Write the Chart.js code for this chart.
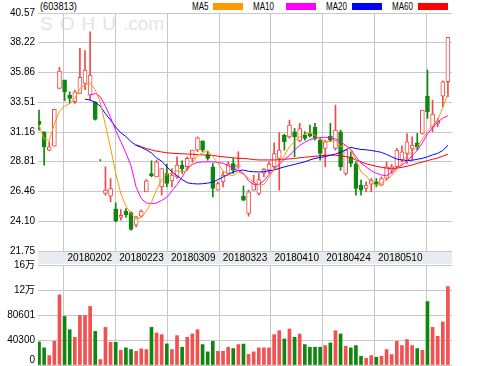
<!DOCTYPE html>
<html>
<head>
<meta charset="utf-8">
<script src="https://cdn.jsdelivr.net/npm/chart.js@4.4.1/dist/chart.umd.min.js"></script>
<style>
  html, body { margin: 0; padding: 0; background: #fff; width: 499px; height: 366px; overflow: hidden; }
  body { font-family: "Liberation Sans", "Noto Sans CJK SC", sans-serif; }
  #wrap { position: relative; width: 499px; height: 366px; }
  canvas { position: absolute; left: 0; }
  #price { top: 0; }
  #vol { top: 252px; }
  .wm { position: absolute; left: 40px; top: 13px; font-size: 19px; color: #e4e4e4; }
  .txt { position: absolute; top: 1px; font-size: 10px; color: #000; transform: scaleX(0.8); transform-origin: left top; }
  .code { transform: scaleX(0.92); }
  .sw { position: absolute; top: 3px; width: 30px; height: 7px; }
</style>
</head>
<body>
<div id="wrap">
  <div class="wm"><span style="letter-spacing:7px">SOHU</span>.com</div>
  <div class="txt code" style="left:40px">(603813)</div>
  <div class="txt" style="left:192px">MA5</div><div class="sw" style="left:213px;background:#ff9900"></div>
  <div class="txt" style="left:253px">MA10</div><div class="sw" style="left:286px;background:#ff00ff"></div>
  <div class="txt" style="left:326px">MA20</div><div class="sw" style="left:352px;background:#0000ff"></div>
  <div class="txt" style="left:392px">MA60</div><div class="sw" style="left:418px;background:#ff0000"></div>
  <canvas id="price" width="499" height="264"></canvas>
  <canvas id="vol" width="499" height="114"></canvas>
</div>
<script>
// tick labels
const dateTicks = ['', '20180202', '20180223', '20180309', '20180323', '20180410', '20180424', '20180510', ''];
const priceTicks = [21.75, 24.10, 26.46, 28.81, 31.16, 33.51, 35.86, 38.22, 40.57];
const volTicks = [0, 40300, 80601, 120901, 161202];
const volTickLabels = ['0', '40300', '80601', '12万', '16万'];

// daily candles, one per trading day
const open = [32.02, 31.18, 29.73, 30.04, 34.61, 35.27, 34.08, 33.55, 34.21, 35.00,
  34.08, 33.55, 28.93, 26.30, 26.08, 25.06, 24.40, 24.90, 24.79, 23.79,
  24.50, 26.43, 27.88, 27.61, 26.82, 27.88, 27.30, 27.61, 28.54, 28.41,
  29.07, 29.73, 30.46, 29.38, 28.41, 26.56, 27.22, 27.88, 28.67, 28.40,
  26.08, 24.72, 26.56, 26.30, 27.90, 28.14, 28.41, 29.07, 30.90, 30.78,
  31.18, 30.46, 30.91, 31.04, 31.52, 30.52, 29.86, 30.83, 29.86, 31.18,
  27.88, 29.20, 28.60, 26.96, 26.69, 27.03, 27.22, 26.96, 27.48, 28.14,
  28.41, 28.93, 29.46, 29.86, 30.30, 31.04, 34.00, 31.57, 31.84, 34.00, 35.13];
const high = [32.89, 31.18, 30.39, 32.95, 36.27, 35.27, 34.34, 34.47, 37.77, 37.59,
  39.09, 33.55, 28.98, 28.41, 27.48, 25.56, 25.03, 25.11, 24.84, 24.50,
  25.00, 27.40, 28.88, 28.93, 28.27, 28.62, 28.27, 29.20, 28.88, 29.20,
  29.73, 30.78, 30.46, 29.60, 28.67, 27.22, 28.01, 28.80, 29.07, 29.60,
  26.90, 26.56, 27.75, 27.88, 28.27, 28.80, 30.30, 31.10, 30.99, 32.10,
  31.44, 31.84, 31.18, 31.70, 31.84, 30.65, 30.52, 31.84, 33.29, 31.31,
  29.73, 29.59, 28.80, 27.35, 27.22, 27.48, 27.48, 27.61, 28.80, 28.60,
  29.86, 30.07, 31.04, 30.78, 31.04, 32.89, 36.06, 33.68, 32.23, 35.21, 38.64];
const low = [31.30, 28.54, 29.67, 30.04, 34.61, 33.63, 33.42, 33.42, 34.21, 34.50,
  33.68, 32.10, 28.88, 26.16, 25.64, 24.05, 24.19, 24.40, 23.39, 23.66,
  24.44, 26.43, 27.61, 27.61, 26.16, 26.82, 26.82, 27.48, 27.88, 28.14,
  28.80, 29.60, 29.60, 28.93, 26.03, 26.56, 26.82, 27.75, 27.88, 28.27,
  25.72, 24.50, 26.56, 26.16, 27.60, 27.88, 28.27, 26.56, 29.73, 30.65,
  29.20, 30.39, 30.52, 30.78, 30.52, 28.93, 28.41, 30.39, 29.73, 28.14,
  27.75, 28.41, 26.16, 26.16, 26.43, 26.43, 26.82, 26.90, 27.35, 27.90,
  28.27, 28.80, 28.67, 28.93, 29.73, 30.99, 32.23, 31.18, 31.57, 33.16, 33.95];
const close = [31.76, 29.99, 29.99, 32.95, 35.98, 34.34, 33.82, 34.34, 35.48, 36.06,
  35.66, 32.15, 28.93, 26.56, 26.69, 24.13, 24.58, 24.60, 23.45, 24.45,
  24.90, 27.30, 27.70, 28.80, 28.27, 27.09, 27.75, 28.54, 28.27, 29.07,
  29.73, 30.70, 29.73, 29.07, 26.69, 27.09, 27.75, 28.62, 28.14, 28.50,
  25.77, 26.43, 27.14, 27.40, 28.20, 28.62, 29.46, 29.73, 30.40, 31.70,
  30.78, 31.44, 30.65, 30.83, 30.65, 29.46, 30.39, 30.52, 31.31, 28.41,
  29.73, 28.67, 26.69, 26.56, 26.96, 27.35, 27.03, 27.48, 28.41, 28.41,
  29.73, 29.60, 30.39, 30.12, 29.99, 32.89, 32.76, 32.58, 32.05, 35.13, 38.64];
const volume = [37200, 27600, 15200, 38200, 113100, 78300, 56900, 44600, 79900, 79900,
  94300, 54200, 8800, 60600, 36600, 36600, 23700, 27600, 24900, 22100,
  26000, 24900, 60600, 51600, 48900, 34000, 24900, 47300, 28600, 44600,
  50000, 56900, 32900, 21200, 38200, 22100, 22100, 28600, 26500, 32900,
  33700, 17200, 21200, 27600, 27600, 27600, 48900, 55300, 42000, 58100,
  44600, 50000, 32900, 28600, 28600, 28600, 31300, 35600, 55300, 50000,
  30200, 27600, 31300, 14100, 10900, 15200, 12500, 14100, 24900, 16800,
  38200, 31300, 40900, 31300, 26500, 23700, 102300, 60600, 46200, 69300, 126400];

// moving averages as drawn
const ma5 = [31.7, 30.6, 30.5, 31.8, 32.8, 33.2, 33.4, 33.8, 34.6, 34.9,
  35.0, 34.5, 33.5, 31.7, 29.9, 27.9, 26.3, 25.3, 24.7, 24.3,
  24.4, 24.9, 25.6, 26.6, 27.4, 27.8, 27.9, 28.1, 28.0, 28.1,
  28.7, 29.3, 29.5, 29.7, 29.2, 28.7, 28.1, 27.8, 27.7, 28.0,
  27.8, 27.5, 27.2, 27.0, 27.0, 27.6, 28.2, 28.7, 29.3, 30.0,
  30.4, 30.8, 31.0, 31.1, 30.9, 30.6, 30.4, 30.4, 30.5, 30.0,
  30.1, 29.7, 29.0, 28.0, 27.7, 27.2, 26.9, 27.1, 27.4, 27.7,
  28.2, 28.7, 29.3, 29.6, 30.0, 30.6, 31.2, 31.7, 32.1, 33.1, 34.2];
const ma10 = [null, null, null, null, null, null, null, null, null, null,
  34.1, 34.2, 33.95, 33.2, 32.3, 31.3, 30.4, 29.5, 28.5, 26.8,
  25.9, 25.55, 25.5, 25.55, 25.75, 26.0, 26.5, 27.0, 27.6, 28.3,
  28.6, 28.75, 28.8, 28.8, 28.8, 28.75, 28.7, 28.5, 28.3, 28.1,
  27.9, 27.3, 27.0, 27.0, 27.3, 27.8, 28.2, 28.6, 29.0, 29.3,
  29.75, 30.1, 30.35, 30.55, 30.65, 30.73, 30.74, 30.7, 30.6, 30.4,
  30.1, 29.8, 29.2, 28.7, 28.4, 28.1, 27.9, 27.76, 27.7, 27.95,
  28.3, 28.55, 28.85, 29.3, 29.7, 30.3, 31.0, 31.5, 31.95, 32.25, 32.45];
const ma20 = [null, null, null, null, null, null, null, null, null, 33.75,
  33.69, 33.5, 33.2, 32.6, 32.1, 31.55, 31.1, 30.8, 30.4, 30.1,
  29.95, 29.75, 29.5, 29.1, 28.85, 28.4, 28.0, 27.7, 27.4, 27.15,
  27.08, 27.05, 27.07, 27.12, 27.2, 27.4, 27.6, 27.8, 28.0, 28.12,
  28.15, 28.05, 28.02, 28.0, 28.02, 28.1, 28.15, 28.28, 28.4, 28.5,
  28.6, 28.7, 28.8, 28.95, 29.07, 29.15, 29.22, 29.32, 29.42, 29.55,
  29.75, 29.95, 29.85, 29.78, 29.75, 29.7, 29.63, 29.55, 29.38, 29.2,
  29.02, 28.95, 28.9, 28.93, 29.0, 29.08, 29.2, 29.35, 29.47, 29.7, 30.1];
const ma60 = [null, null, null, null, null, null, null, null, null, null,
  null, null, null, null, null, null, null, null, null, 30.15,
  30.0, 29.85, 29.75, 29.65, 29.58, 29.52, 29.48, 29.46, 29.44, 29.42,
  29.4, 29.37, 29.35, 29.33, 29.3, 29.25, 29.2, 29.16, 29.12, 29.08,
  29.07, 29.03, 28.98, 28.95, 28.95, 28.95, 28.95, 28.97, 29.0, 29.03,
  29.07, 29.12, 29.17, 29.2, 29.24, 29.28, 29.32, 29.34, 29.32, 29.27,
  29.22, 29.15, 28.95, 28.8, 28.65, 28.55, 28.45, 28.37, 28.3, 28.28,
  28.3, 28.37, 28.45, 28.55, 28.68, 28.78, 28.9, 29.0, 29.1, 29.25, 29.4];

const RED = '#f04a4a';
const GREEN = '#0f870f';
const GRID = '#c8c8c8';
const FONT = '"Liberation Sans", "Noto Sans CJK SC", sans-serif';

Chart.defaults.font.family = FONT;
Chart.defaults.font.size = 10;
Chart.defaults.color = '#000';

// x runs over day index; the 8 date columns split the plot evenly
const xMin = -0.2;
const xMax = close.length - 0.2;
const gridPos = dateTicks.map((_, k) => xMin + k * (xMax - xMin) / (dateTicks.length - 1));

const up = close.map((c, i) => c > open[i]);
const volUp = close.map((c, i) => c >= open[i]);
const pts = arr => arr.map((v, i) => ({ x: i, y: v }));

function xScale(showLabels) {
  return {
    type: 'linear',
    min: xMin,
    max: xMax,
    offset: false,
    afterBuildTicks: axis => { axis.ticks = gridPos.map(v => ({ value: v })); },
    afterFit: axis => { axis.height = showLabels ? 13 : 0; },
    grid: { color: GRID, drawTicks: false },
    border: { display: false },
    ticks: {
      display: showLabels,
      autoSkip: false,
      maxRotation: 0,
      padding: 1,
      callback: (v, i) => dateTicks[i]
    }
  };
}

// light band behind the date labels
const dateBand = {
  id: 'dateBand',
  beforeDraw(chart) {
    const { ctx, chartArea } = chart;
    ctx.save();
    ctx.fillStyle = '#e8ecf1';
    ctx.fillRect(chartArea.left, chartArea.bottom, chartArea.right - chartArea.left, chart.scales.x.height);
    ctx.restore();
  }
};

const maLine = (label, data, color) => ({
  type: 'line', label, data: pts(data), borderColor: color, borderWidth: 1,
  pointRadius: 0, tension: 0, order: 1
});

new Chart(document.getElementById('price'), {
  type: 'bar',
  data: {
    datasets: [
      maLine('MA5', ma5, '#ff9900'),
      maLine('MA10', ma10, '#ff00ff'),
      maLine('MA20', ma20, '#0000ff'),
      maLine('MA60', ma60, '#ff0000'),
      {
        label: 'body',
        data: close.map((c, i) => ({ x: i, y: [open[i], c] })),
        backgroundColor: up.map(u => u ? '#ffffff' : GREEN),
        borderColor: up.map(u => u ? RED : GREEN),
        borderWidth: 1,
        borderSkipped: false,
        barThickness: 4,
        grouped: false,
        order: 2
      },
      {
        label: 'wick',
        data: close.map((c, i) => ({ x: i, y: [low[i], high[i]] })),
        backgroundColor: up.map(u => u ? RED : GREEN),
        barThickness: 1,
        grouped: false,
        order: 3
      }
    ]
  },
  options: {
    responsive: false,
    animation: false,
    devicePixelRatio: 1,
    layout: { padding: { top: 13, right: 47, left: 0, bottom: 0 } },
    plugins: { legend: { display: false }, tooltip: { enabled: false } },
    scales: {
      x: xScale(true),
      y: {
        type: 'linear',
        min: priceTicks[0],
        max: priceTicks[priceTicks.length - 1],
        afterBuildTicks: axis => { axis.ticks = priceTicks.map(v => ({ value: v })); },
        afterFit: axis => { axis.width = 38; },
        grid: { color: GRID, drawTicks: false },
        border: { display: false },
        ticks: { padding: 3, callback: v => v.toFixed(2) }
      }
    }
  },
  plugins: [dateBand]
});

// volume axis labels, the bottom one kept inside the canvas
const volLabels = {
  id: 'volLabels',
  afterDraw(chart) {
    const { ctx, chartArea, scales } = chart;
    ctx.save();
    ctx.font = '10px ' + FONT;
    ctx.fillStyle = '#000';
    ctx.textAlign = 'right';
    ctx.textBaseline = 'middle';
    volTicks.forEach((v, k) => {
      const y = Math.min(scales.y.getPixelForValue(v), chartArea.bottom - 5);
      ctx.fillText(volTickLabels[k], chartArea.left - 3, y);
    });
    ctx.restore();
  }
};

new Chart(document.getElementById('vol'), {
  type: 'bar',
  data: {
    datasets: [{
      label: 'volume',
      data: pts(volume),
      backgroundColor: volUp.map(u => u ? '#f35050' : GREEN),
      barThickness: 3,
      grouped: false
    }]
  },
  options: {
    responsive: false,
    animation: false,
    devicePixelRatio: 1,
    layout: { padding: { top: 13, right: 47, left: 0, bottom: 1 } },
    plugins: { legend: { display: false }, tooltip: { enabled: false } },
    scales: {
      x: xScale(false),
      y: {
        type: 'linear',
        min: volTicks[0],
        max: volTicks[volTicks.length - 1],
        afterBuildTicks: axis => { axis.ticks = volTicks.map(v => ({ value: v })); },
        afterFit: axis => { axis.width = 38; },
        grid: { color: GRID, drawTicks: false },
        border: { display: false },
        ticks: { display: false }
      }
    }
  },
  plugins: [volLabels]
});
</script>
</body>
</html>
